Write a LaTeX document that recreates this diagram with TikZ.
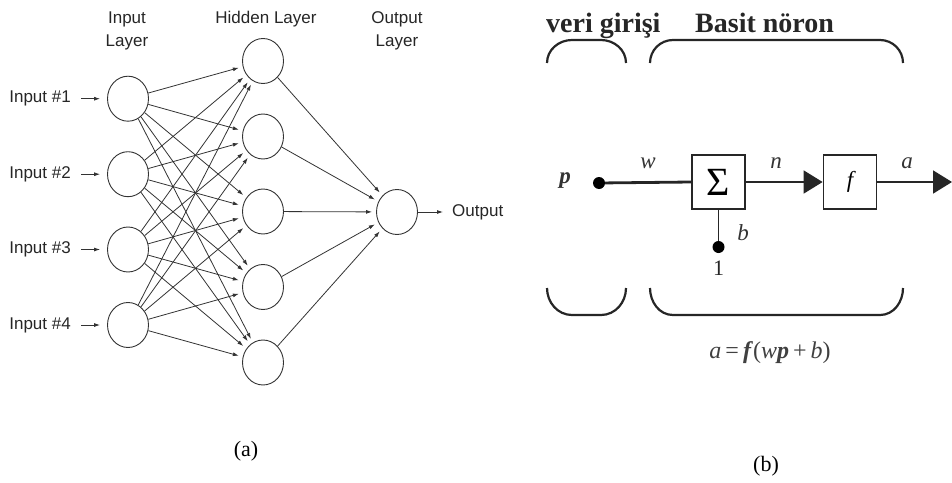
\documentclass[tikz,border=0pt]{standalone}
\usepackage{fontspec}
\setmainfont{Liberation Serif}
\newfontfamily\arialfont{Liberation Sans}
\usetikzlibrary{shapes.geometric,arrows.meta}
\begin{document}
\begin{tikzpicture}[x=1pt,y=-1pt,
  neuron/.style={ellipse,draw=black!80,line width=0.9pt,minimum width=41pt,minimum height=45pt,inner sep=0pt},
  lbl/.style={font=\arialfont\fontsize{17}{23}\selectfont,text=black!85,inner sep=0pt},
  conn/.style={draw=black!80,line width=0.8pt,-{Latex[length=6pt,width=4pt]},shorten >=4pt},
  brk/.style={draw=black!85,line width=2.2pt},
  sbox/.style={draw=black!85,line width=1.8pt,minimum width=53pt,minimum height=54pt,inner sep=0pt},
  sig/.style={font=\fontsize{23}{25}\selectfont\itshape,text=black!80,inner sep=0pt},
  dot/.style={circle,fill=black,minimum size=12pt,inner sep=0pt},
  bigtip/.style={-{Triangle[length=19pt,width=23pt]}}]
\useasboundingbox (0,0) rectangle (952,482);
% ---------- (a) network ----------
\node[lbl,align=center] (linp) at (127,30.5) {Input\\Layer};
\node[lbl] (lhid) at (266,19) {Hidden Layer};
\node[lbl,align=center] (lout) at (397,30.5) {Output\\Layer};
\foreach \i/\y in {1/98.7,2/174.2,3/249.5,4/325} {
  \node[neuron] (i\i) at (128,\y) {};
  \node[lbl,anchor=east] (t\i) at (71,\y) {Input \#\i};
  \draw[conn,shorten <=10pt,shorten >=7pt] (t\i.east) -- (i\i);
}
\foreach \j/\y in {1/61,2/136.5,3/211.5,4/287,5/362.5} {
  \node[neuron] (h\j) at (263,\y) {};
}
\node[neuron] (o) at (397,212) {};
\foreach \i in {1,...,4} {
  \foreach \j in {1,...,5} {
    \draw[conn] (i\i) -- (h\j);
  }
}
\foreach \j in {1,...,5} {
  \draw[conn] (h\j) -- (o);
}
\node[lbl,anchor=west] (outt) at (452,212) {Output};
\draw[conn,shorten >=9pt] (o.east) -- (outt.west);
\node[font=\fontsize{22}{24}\selectfont,inner sep=0pt] (capa) at (246,451) {(a)};
% ---------- (b) simple neuron ----------
\node[font=\bfseries\fontsize{28}{30}\selectfont,text=black!85,anchor=base west,inner sep=0pt] (veri) at (546,32) {veri girişi};
\node[font=\bfseries\fontsize{28}{30}\selectfont,text=black!85,anchor=base west,inner sep=0pt] (basit) at (695,32) {Basit nöron};
\draw[brk] (547,63) to[out=90,in=180] (572,40) -- (601,40) to[out=0,in=90] (626,63);
\draw[brk] (650,63) to[out=90,in=180] (673,40) -- (880,40) to[out=0,in=90] (903,63);
\draw[brk] (547,288) to[out=-90,in=180] (572,315) -- (601,315) to[out=0,in=-90] (626,288);
\draw[brk] (650,288) to[out=-90,in=180] (673,315) -- (880,315) to[out=0,in=-90] (903,288);
\node[sig,font=\fontsize{23}{25}\selectfont\bfseries\itshape] (p) at (565,181) {p};
\node[dot] (pd) at (599,183) {};
\node[sbox] (sum) at (718.5,182) {\fontsize{40}{42}\selectfont Σ};
\node[sbox] (fb) at (850,182) {\fontsize{23}{25}\selectfont\itshape f};
\coordinate (aend) at (952,182);
\node[dot] (bd) at (718.5,247) {};
\draw[draw=black!85,line width=2.8pt] (pd) -- (sum.west);
\draw[draw=black!85,line width=1.8pt] (sum.south) -- (bd);
\draw[draw=black!85,line width=1.8pt,bigtip] (sum.east) -- (fb.west);
\draw[draw=black!85,line width=1.8pt,bigtip] (fb.east) -- (aend);
\node[sig] (w) at (648,163) {w};
\node[sig] (n) at (776,163) {n};
\node[sig] (a) at (907,163) {a};
\node[sig] (b) at (743,233) {b};
\node[font=\fontsize{22}{24}\selectfont,text=black!85,inner sep=0pt] (one) at (718.5,268) {1};
\node[font=\fontsize{24}{26}\selectfont,text=black!75,inner sep=0pt] (eq) at (770,353) {\textit{a}\,=\,\textbf{\textit{f}}(\textit{w}\textbf{\textit{p}}\,+\,\textit{b})};
\node[font=\fontsize{22}{24}\selectfont,inner sep=0pt] (capb) at (766,466) {(b)};
\end{tikzpicture}
\end{document}
